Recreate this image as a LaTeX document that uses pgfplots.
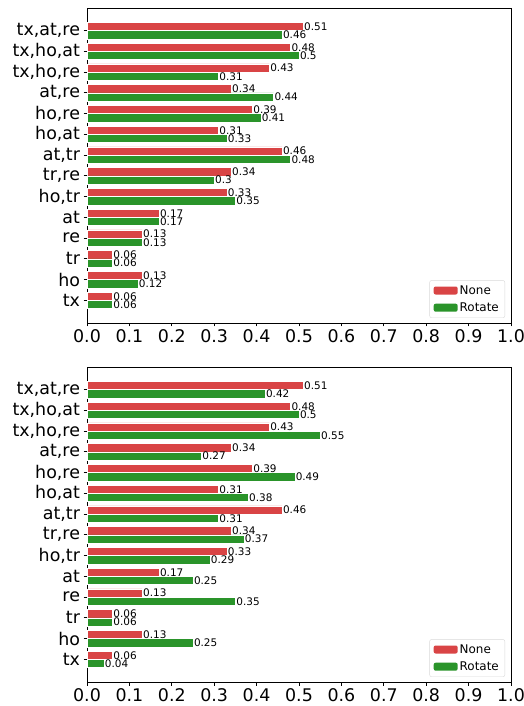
\documentclass[border=0pt]{standalone}
\usepackage{pgfplots}
\pgfplotsset{compat=1.18}
\usepackage{fontspec}
\setmainfont{DejaVu Sans}
\definecolor{cnone}{RGB}{217,68,69}
\definecolor{crot}{RGB}{42,148,42}
\pgfplotsset{
  mystyle/.style={
    scale only axis, width=424bp, height=315bp,
    xmin=0, xmax=1, ymin=-1.09, ymax=14.09,
    xtick={0,0.1,0.2,0.3,0.4,0.5,0.6,0.7,0.8,0.9,1.0},
    ytick={0,1,2,3,4,5,6,7,8,9,10,11,12,13},
    yticklabels={tx,ho,tr,re,at,{ho,tr},{tr,re},{at,tr},{ho,at},{ho,re},{at,re},{tx,ho,re},{tx,ho,at},{tx,at,re}},
    xticklabel={\pgfmathprintnumber[fixed,fixed zerofill,precision=1,assume math mode=true]{\tick}},
    ticklabel style={font=\fontsize{17.5}{20}\selectfont},
    tick align=outside, xtick pos=bottom, ytick pos=left,
    major tick length=3.5bp,
    tick style={black, line width=0.8bp},
    axis line style={line width=0.8bp},
    xbar, bar width=0.4,
    point meta=x,
    nodes near coords={\pgfmathprintnumber[fixed,precision=2,assume math mode=true]{\pgfplotspointmeta}},
    nodes near coords style={font=\fontsize{10.5}{12}\selectfont, inner xsep=0.8bp, inner ysep=0pt, anchor=west},
    every axis plot/.append style={draw=white, line width=0.4bp},
    legend style={at={(1,0)}, xshift=-6bp, yshift=5bp, anchor=south east,
      draw=black!15, rounded corners=2pt, font=\fontsize{12}{14}\selectfont,
      row sep=3bp, inner xsep=4bp, inner ysep=3bp, cells={anchor=west}},
    legend image code/.code={\fill[##1,draw=none] (0bp,-4bp) rectangle (24bp,4bp);},
  }
}
\begin{document}
\begin{tikzpicture}
\useasboundingbox (0,0) rectangle (524bp,706bp);
\begin{axis}[mystyle, at={(87bp,383bp)}, anchor=south west]
\addplot[fill=cnone, bar shift=0.2] coordinates {
(0.06,0) (0.13,1) (0.06,2) (0.13,3) (0.17,4) (0.33,5) (0.34,6) (0.46,7) (0.31,8) (0.39,9) (0.34,10) (0.43,11) (0.48,12) (0.51,13)};
\addlegendentry{None}
\addplot[fill=crot, bar shift=-0.2] coordinates {
(0.06,0) (0.12,1) (0.06,2) (0.13,3) (0.17,4) (0.35,5) (0.30,6) (0.48,7) (0.33,8) (0.41,9) (0.44,10) (0.31,11) (0.50,12) (0.46,13)};
\addlegendentry{Rotate}
\end{axis}
\begin{axis}[mystyle, at={(87bp,24bp)}, anchor=south west]
\addplot[fill=cnone, bar shift=0.2] coordinates {
(0.06,0) (0.13,1) (0.06,2) (0.13,3) (0.17,4) (0.33,5) (0.34,6) (0.46,7) (0.31,8) (0.39,9) (0.34,10) (0.43,11) (0.48,12) (0.51,13)};
\addlegendentry{None}
\addplot[fill=crot, bar shift=-0.2] coordinates {
(0.04,0) (0.25,1) (0.06,2) (0.35,3) (0.25,4) (0.29,5) (0.37,6) (0.31,7) (0.38,8) (0.49,9) (0.27,10) (0.55,11) (0.50,12) (0.42,13)};
\addlegendentry{Rotate}
\end{axis}
\end{tikzpicture}
\end{document}
